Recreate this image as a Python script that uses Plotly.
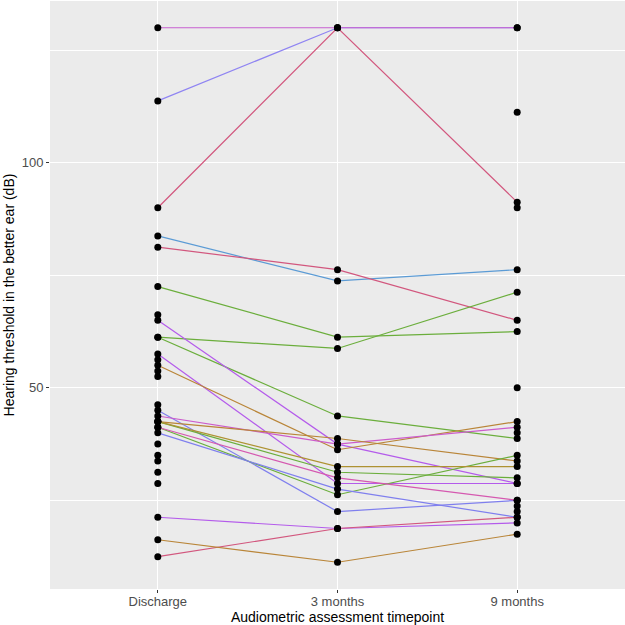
import plotly.graph_objects as go

timepoints = ["Discharge", "3 months", "9 months"]

# per-patient thresholds (dB) at each timepoint
discharge = [130, 113.75, 90, 83.75, 81.25, 72.5, 61.25, 61.25, 65, 57.5, 55, 45,
             43.75, 42.5, 42.5, 41.25, 42.5, 41.25, 40, 21.25, 12.5, 16.25]
month3 = [130, 130, 130, 73.75, 76.25, 61.25, 58.75, 43.75, 37.5, 28.75, 36.25, 22.5,
          37.5, 38.75, 31.25, 26.25, 32.5, 30, 27.5, 18.75, 18.75, 11.25]
month9 = [130, 130, 91.25, 76.25, 65, 62.5, 71.25, 38.75, 28.75, 28.75, 42.5, 25,
          41.25, 33.75, 30, 35, 32.5, 25, 21.25, 20, 21.25, 17.5]
line_colors = ["#C75FD0", "#8F84F2", "#D2577E", "#5B9BD5", "#D2577E", "#6BAE3C",
               "#6BAE3C", "#6BAE3C", "#B45BEB", "#B45BEB", "#B98538", "#7F7FEE",
               "#CC5CCB", "#B98538", "#6BAE3C", "#6BAE3C", "#AE9232", "#D558B0",
               "#7F7FEE", "#B45BEB", "#D2577E", "#B98538"]
# draw order so that top flat magenta line lies above
order = [1] + [0] + list(range(2, len(discharge)))

# patients with only a single observation (no connecting line)
discharge_only = [66.25, 56.25, 53.75, 52.5, 46.25, 37.5, 35, 33.75, 31.25, 28.75]
month9_only = [111.25, 90, 50, 40, 23.75, 22.5]

fig = go.Figure()
for i in order:
    fig.add_trace(go.Scatter(
        x=timepoints, y=[discharge[i], month3[i], month9[i]],
        mode="lines", line=dict(color=line_colors[i], width=1.2),
        showlegend=False, hoverinfo="skip"))

px, py = [], []
for d, m3, m9 in zip(discharge, month3, month9):
    for t, v in zip(timepoints, (d, m3, m9)):
        if v is not None:
            px.append(t); py.append(v)
for v in discharge_only:
    px.append(timepoints[0]); py.append(v)
for v in month9_only:
    px.append(timepoints[2]); py.append(v)

fig.add_trace(go.Scatter(x=px, y=py, mode="markers",
                         marker=dict(color="black", size=7),
                         showlegend=False))

fig.update_layout(
    width=625, height=625,
    margin=dict(l=50, r=0, t=1, b=36),
    paper_bgcolor="white", plot_bgcolor="#EBEBEB",
    font=dict(family="Liberation Sans, Arial, sans-serif", size=12, color="black"),
)
fig.update_xaxes(
    type="category", categoryorder="array", categoryarray=timepoints,
    range=[-0.6, 2.6], showgrid=True, gridcolor="white", gridwidth=1.4,
    ticks="outside", ticklen=3, tickcolor="#333333", ticklabelstandoff=-3,
    tickfont=dict(size=13, color="#4D4D4D"),
    title=dict(text="Audiometric assessment timepoint", font=dict(size=14), standoff=0),
    zeroline=False, showline=False,
)
fig.update_yaxes(
    range=[5.31, 135.94], tickvals=[50, 100], showgrid=True, gridcolor="white",
    gridwidth=1.4, ticks="outside", ticklen=3, tickcolor="#333333",
    tickfont=dict(size=13, color="#4D4D4D"),
    minor=dict(tickvals=[25, 75, 125], showgrid=True, gridcolor="white",
               gridwidth=0.6, ticks=""),
    title=dict(text="Hearing threshold in the better ear (dB)", font=dict(size=14), standoff=3),
    zeroline=False, showline=False,
)

fig.write_html("out.html", config={"displayModeBar": False},
               post_script="document.body.style.margin='0px';")
